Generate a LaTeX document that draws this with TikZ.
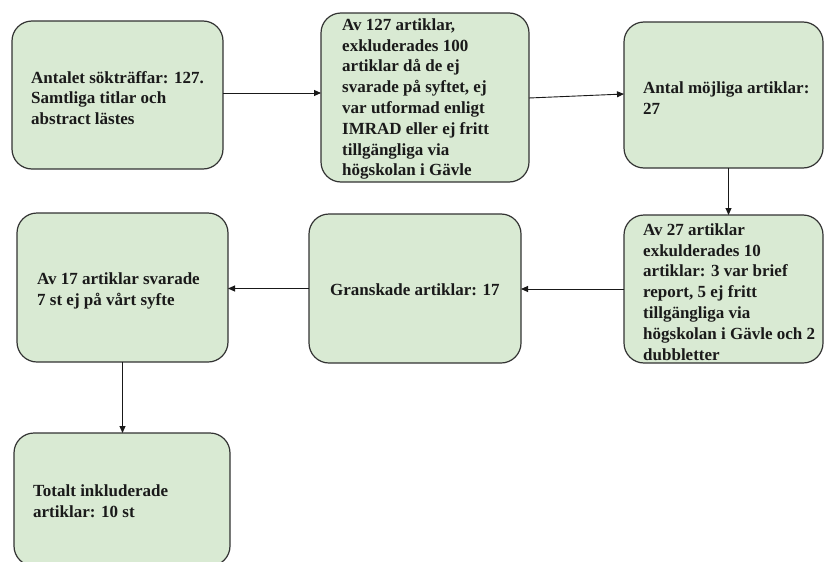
\documentclass[tikz,border=0pt]{standalone}
\usepackage{fontspec}
\setmainfont{Liberation Serif}
\usetikzlibrary{arrows.meta}
\definecolor{boxfill}{HTML}{D9EAD3}
\definecolor{boxline}{HTML}{333333}
\definecolor{txtcol}{HTML}{1A1A1A}
\begin{document}
\begin{tikzpicture}[x=1pt,y=-1pt,
  box/.style={draw=boxline, fill=boxfill, line width=1.2pt, rounded corners=20pt,
    inner sep=0pt, outer sep=0pt, anchor=north west},
  txt/.style={anchor=west, align=left, inner sep=0pt, text=txtcol,
    font=\fontsize{17}{20.8}\selectfont\bfseries},
  conn/.style={draw=black!90, line width=0.9pt, -{Triangle[length=7pt,width=6pt]}}]
\useasboundingbox (0,0) rectangle (827,562);
\clip (0,0) rectangle (827,562);
% boxes
\node[box, minimum width=211pt, minimum height=148pt] (b1) at (12,21) {};
\node[box, minimum width=208pt, minimum height=169pt] (b2) at (321,13) {};
\node[box, minimum width=199pt, minimum height=146pt] (b3) at (624,22) {};
\node[box, minimum width=199pt, minimum height=148pt] (b4) at (624,215) {};
\node[box, minimum width=212pt, minimum height=149pt] (b6) at (309,214) {};
\node[box, minimum width=211pt, minimum height=149pt] (b5) at (17,213) {};
\node[box, minimum width=216pt, minimum height=133pt] (b7) at (14,433) {};
% texts
\node[txt] (t1) at (31,98) {Antalet sökträffar: 127.\\Samtliga titlar och\\abstract lästes};
\node[txt] (t2) at (342,99) {Av 127 artiklar,\\exkluderades 100\\artiklar då de ej\\svarade på syftet, ej\\var utformad enligt\\IMRAD eller ej fritt\\tillgängliga via\\högskolan i Gävle};
\node[txt] (t3) at (643,98) {Antal möjliga artiklar:\\27};
\node[txt] (t4) at (643,292) {Av 27 artiklar\\exkulderades 10\\artiklar: 3 var brief\\report, 5 ej fritt\\tillgängliga via\\högskolan i Gävle och 2\\dubbletter};
\node[txt] (t6) at (330,290) {Granskade artiklar: 17};
\node[txt] (t5) at (37,291) {Av 17 artiklar svarade\\7 st ej på vårt syfte};
\node[txt] (t7) at (33,501) {Totalt inkluderade\\artiklar: 10 st};
% connectors
\draw[conn] ([yshift=2pt]b1.east) -- ([yshift=2pt]b1.east -| b2.west);
\draw[conn] ([yshift=-0.5pt]b2.east) -- ([yshift=1pt]b3.west);
\draw[conn] ([xshift=5pt]b3.south) -- ([xshift=5pt]b4.north);
\draw[conn] (b4.west) -- (b4.west -| b6.east);
\draw[conn] (b6.west) -- (b6.west -| b5.east);
\draw[conn] (b5.south) -- (b5.south |- b7.north);
\end{tikzpicture}
\end{document}
